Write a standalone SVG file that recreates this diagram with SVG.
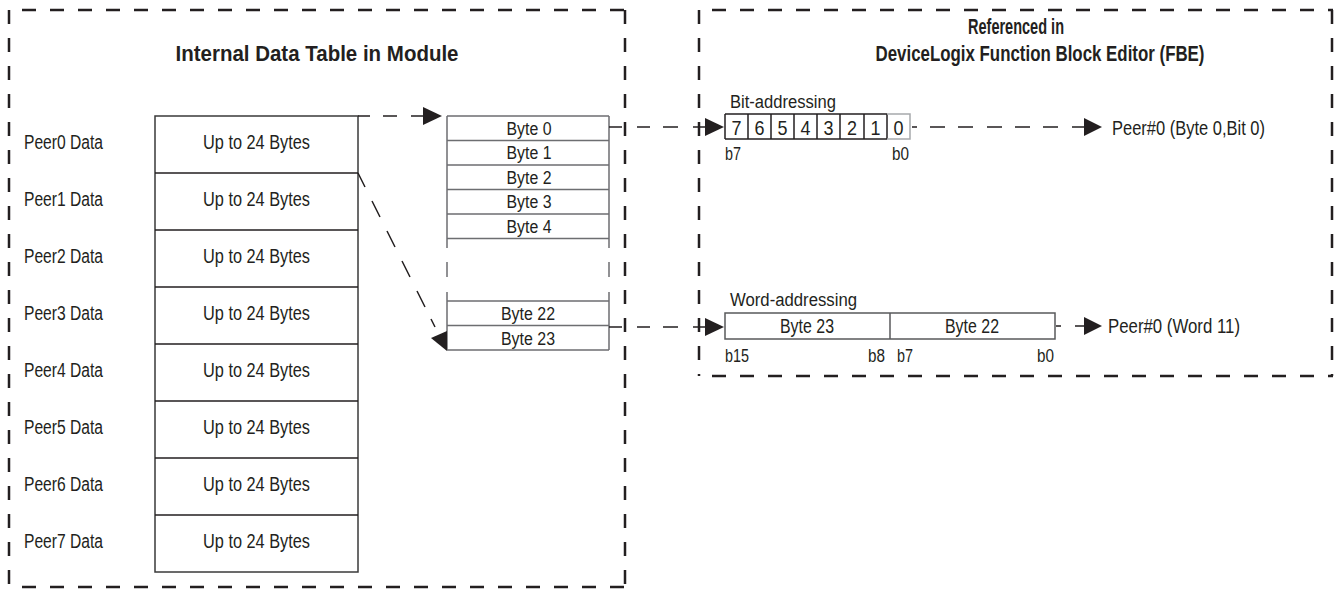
<svg xmlns="http://www.w3.org/2000/svg" width="1336" height="589" viewBox="0 0 1336 589">
<style>
text{font-family:"Liberation Sans",Arial,sans-serif;fill:#231f20}
.t{font-size:20px}
.s{font-size:18px}
.h{font-size:22px;font-weight:bold}
.m{text-anchor:middle}
.box{stroke:#231f20;stroke-width:2.5;stroke-dasharray:14 14;fill:none}
.cell{fill:#fff;stroke:#3a3a3a;stroke-width:1.5}
.g{fill:none;stroke:#6d6e71;stroke-width:1.5}
.c{fill:none;stroke:#231f20;stroke-width:1.5}
.cg{fill:none;stroke:#58595b;stroke-width:1.5}
.ah{fill:#231f20}
</style>
<g id="module-frame">
<path class="box" d="M22 10H625M9 10V587M625 10V587M22 587H625"/>
<text class="h m" x="317" y="61" textLength="283" lengthAdjust="spacingAndGlyphs">Internal Data Table in Module</text>
</g>
<g id="fbe-frame">
<path class="box" d="M712 10H1333M699 10V376M1332 10V376M712 376H1333"/>
<text class="h m" x="1016" y="34" textLength="96" lengthAdjust="spacingAndGlyphs">Referenced in</text>
<text class="h m" x="1040" y="61" textLength="329" lengthAdjust="spacingAndGlyphs">DeviceLogix Function Block Editor (FBE)</text>
</g>
<g id="peer-table">
<rect class="cell" x="155" y="116" width="203" height="456"/>
<path class="c" d="M155 173H358M155 230H358M155 287H358M155 344H358M155 401H358M155 458H358M155 515H358"/>
<text class="t m" x="256.5" y="149" textLength="107" lengthAdjust="spacingAndGlyphs">Up to 24 Bytes</text>
<text class="t m" x="256.5" y="206" textLength="107" lengthAdjust="spacingAndGlyphs">Up to 24 Bytes</text>
<text class="t m" x="256.5" y="263" textLength="107" lengthAdjust="spacingAndGlyphs">Up to 24 Bytes</text>
<text class="t m" x="256.5" y="320" textLength="107" lengthAdjust="spacingAndGlyphs">Up to 24 Bytes</text>
<text class="t m" x="256.5" y="377" textLength="107" lengthAdjust="spacingAndGlyphs">Up to 24 Bytes</text>
<text class="t m" x="256.5" y="434" textLength="107" lengthAdjust="spacingAndGlyphs">Up to 24 Bytes</text>
<text class="t m" x="256.5" y="491" textLength="107" lengthAdjust="spacingAndGlyphs">Up to 24 Bytes</text>
<text class="t m" x="256.5" y="548" textLength="107" lengthAdjust="spacingAndGlyphs">Up to 24 Bytes</text>
<text class="t" x="24" y="149" textLength="79" lengthAdjust="spacingAndGlyphs">Peer0 Data</text>
<text class="t" x="24" y="206" textLength="79" lengthAdjust="spacingAndGlyphs">Peer1 Data</text>
<text class="t" x="24" y="263" textLength="79" lengthAdjust="spacingAndGlyphs">Peer2 Data</text>
<text class="t" x="24" y="320" textLength="79" lengthAdjust="spacingAndGlyphs">Peer3 Data</text>
<text class="t" x="24" y="377" textLength="79" lengthAdjust="spacingAndGlyphs">Peer4 Data</text>
<text class="t" x="24" y="434" textLength="79" lengthAdjust="spacingAndGlyphs">Peer5 Data</text>
<text class="t" x="24" y="491" textLength="79" lengthAdjust="spacingAndGlyphs">Peer6 Data</text>
<text class="t" x="24" y="548" textLength="79" lengthAdjust="spacingAndGlyphs">Peer7 Data</text>
</g>
<g id="byte-table">
<path class="g" d="M447 116H609M447 140.5H609M447 165H609M447 189.5H609M447 214H609M447 238.5H609M447 301H609M447 325.5H609M447 350H609"/>
<path class="g" d="M447 116V248M447 262V277M447 292V350M609 116V248M609 262V277M609 292V350"/>
<text class="s m" x="529" y="134.5" textLength="45" lengthAdjust="spacingAndGlyphs">Byte 0</text>
<text class="s m" x="529" y="159" textLength="45" lengthAdjust="spacingAndGlyphs">Byte 1</text>
<text class="s m" x="529" y="183.5" textLength="45" lengthAdjust="spacingAndGlyphs">Byte 2</text>
<text class="s m" x="529" y="208" textLength="45" lengthAdjust="spacingAndGlyphs">Byte 3</text>
<text class="s m" x="529" y="232.5" textLength="45" lengthAdjust="spacingAndGlyphs">Byte 4</text>
<text class="s m" x="528" y="320" textLength="54" lengthAdjust="spacingAndGlyphs">Byte 22</text>
<text class="s m" x="528" y="344.5" textLength="54" lengthAdjust="spacingAndGlyphs">Byte 23</text>
</g>
<g id="bit-addressing">
<text class="s" x="730" y="108" textLength="106" lengthAdjust="spacingAndGlyphs">Bit-addressing</text>
<path class="c" d="M725 114H887M725 139H887M725 114V139M748 114V139M771 114V139M794 114V139M817 114V139M840 114V139M864 114V139M887 114V139"/>
<path fill="none" stroke="#a7a9ac" stroke-width="1.5" d="M887 114H910V139H887"/>
<g style="font-size:21px" class="m">
<text x="736.5" y="134.5" textLength="10" lengthAdjust="spacingAndGlyphs">7</text>
<text x="759.5" y="134.5" textLength="10" lengthAdjust="spacingAndGlyphs">6</text>
<text x="782.5" y="134.5" textLength="10" lengthAdjust="spacingAndGlyphs">5</text>
<text x="805.5" y="134.5" textLength="10" lengthAdjust="spacingAndGlyphs">4</text>
<text x="828.5" y="134.5" textLength="10" lengthAdjust="spacingAndGlyphs">3</text>
<text x="852" y="134.5" textLength="10" lengthAdjust="spacingAndGlyphs">2</text>
<text x="875.5" y="134.5" textLength="10" lengthAdjust="spacingAndGlyphs">1</text>
<text x="898.5" y="134.5" textLength="10" lengthAdjust="spacingAndGlyphs">0</text>
</g>
<text class="s" x="725" y="160" textLength="16" lengthAdjust="spacingAndGlyphs">b7</text>
<text class="s" x="892" y="160" textLength="17" lengthAdjust="spacingAndGlyphs">b0</text>
</g>
<g id="word-addressing">
<text class="s" x="730" y="306" textLength="127" lengthAdjust="spacingAndGlyphs">Word-addressing</text>
<rect class="cell" x="725" y="313" width="330" height="26" style="stroke:#58595b"/>
<path class="cg" d="M890 313V339"/>
<text class="t m" x="807" y="332.5" textLength="54" lengthAdjust="spacingAndGlyphs">Byte 23</text>
<text class="t m" x="972" y="332.5" textLength="54" lengthAdjust="spacingAndGlyphs">Byte 22</text>
<text class="s" x="725" y="362" textLength="24" lengthAdjust="spacingAndGlyphs">b15</text>
<text class="s" x="868" y="362" textLength="17" lengthAdjust="spacingAndGlyphs">b8</text>
<text class="s" x="897" y="362" textLength="16" lengthAdjust="spacingAndGlyphs">b7</text>
<text class="s" x="1037" y="362" textLength="17" lengthAdjust="spacingAndGlyphs">b0</text>
</g>
<g id="peer-outputs">
<text class="t" x="1112" y="135" textLength="153" lengthAdjust="spacingAndGlyphs">Peer#0 (Byte 0,Bit 0)</text>
<text class="t" x="1108" y="332.5" textLength="132" lengthAdjust="spacingAndGlyphs">Peer#0 (Word 11)</text>
</g>
<g id="connectors">
<path class="c" d="M358 116H370M383 116H397M411 116H424"/>
<polygon class="ah" points="423,107 442,116 423,125"/>
<path class="c" d="M358 173L365 187M372 201L380 217M387 231L395 247M402 261L410 277M417 291L425 307M431 319L435 327"/>
<polygon class="ah" points="431,338 447,331 447,351"/>
<path class="c" d="M609 127H622M637 127H650M663 127H678M693 127H706"/>
<polygon class="ah" points="705,118 724,127 705,136"/>
<path class="c" d="M912 127H917M930 127H945M958 127H973M987 127H1002M1015 127H1030M1043 127H1058M1072 127H1085"/>
<polygon class="ah" points="1084,118 1102,127 1084,136"/>
<path class="c" d="M609 327H622M637 327H650M663 327H678M693 327H706"/>
<polygon class="ah" points="705,318 724,327 705,336"/>
<path class="c" d="M1056 326H1061M1075 326H1085"/>
<polygon class="ah" points="1084,317 1102,326 1084,335"/>
</g>
</svg>
